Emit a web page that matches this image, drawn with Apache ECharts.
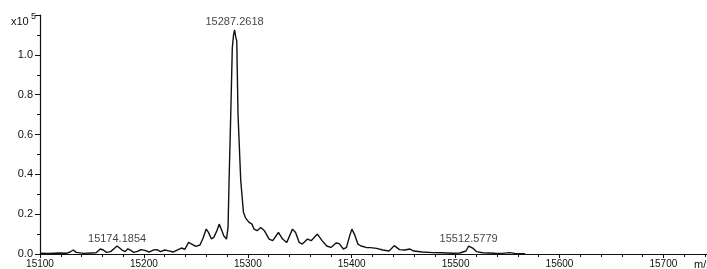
<!DOCTYPE html>
<html>
<head>
<meta charset="utf-8">
<script src="https://cdn.jsdelivr.net/npm/echarts@6/dist/echarts.min.js"></script>
<style>
  html, body { margin: 0; padding: 0; background: #fff; }
  #chart { width: 707px; height: 269px; }
</style>
</head>
<body>
<div id="chart"></div>
<script>
// m/z values
var mz = [15100, 15108, 15118, 15126, 15129, 15132, 15135, 15142, 15149, 15154,
  15158, 15161, 15164, 15168, 15172, 15174.2, 15176, 15179, 15182, 15184.5,
  15187, 15190, 15194, 15197, 15201, 15205, 15209, 15212.5, 15216, 15220,
  15224, 15228, 15232, 15236, 15239.5, 15243, 15246, 15250, 15254, 15257,
  15260, 15262, 15265, 15267.5, 15270.5, 15272.5, 15274, 15277, 15279.5, 15281,
  15282, 15283.6, 15285.1, 15286.3, 15287.3, 15288.4, 15289.4, 15290.6, 15293.2, 15295.8,
  15298, 15301, 15304, 15306, 15309, 15312.5, 15316, 15320.5, 15324, 15329.5,
  15333.5, 15337.5, 15343, 15346, 15349.5, 15352.5, 15357.5, 15361, 15367, 15371.5,
  15376, 15380, 15385, 15388, 15392, 15395, 15398, 15400.2, 15402.6, 15406,
  15409, 15414, 15418, 15424, 15430, 15436, 15441, 15446, 15451, 15456,
  15460, 15468, 15478, 15487, 15497, 15504, 15510, 15512.6, 15517, 15520,
  15526, 15538, 15545, 15552, 15557, 15567];

// intensity in units of 10^5
var intensity = [0.004, 0.003, 0.005, 0.004, 0.010, 0.020, 0.008, 0.003, 0.005, 0.006,
  0.025, 0.020, 0.008, 0.012, 0.030, 0.040, 0.030, 0.020, 0.012, 0.026,
  0.020, 0.008, 0.013, 0.022, 0.018, 0.010, 0.020, 0.022, 0.012, 0.020,
  0.016, 0.010, 0.020, 0.030, 0.024, 0.058, 0.050, 0.038, 0.045, 0.080,
  0.125, 0.110, 0.075, 0.085, 0.120, 0.150, 0.130, 0.090, 0.075, 0.135,
  0.370, 0.700, 1.035, 1.100, 1.125, 1.090, 1.070, 0.700, 0.370, 0.210,
  0.180, 0.160, 0.150, 0.125, 0.117, 0.133, 0.117, 0.075, 0.067, 0.108,
  0.075, 0.058, 0.125, 0.108, 0.058, 0.050, 0.075, 0.067, 0.100, 0.067,
  0.040, 0.033, 0.055, 0.052, 0.025, 0.033, 0.090, 0.125, 0.100, 0.050,
  0.040, 0.033, 0.032, 0.028, 0.020, 0.015, 0.042, 0.022, 0.020, 0.025,
  0.015, 0.010, 0.007, 0.006, 0.004, 0.005, 0.015, 0.040, 0.028, 0.012,
  0.006, 0.004, 0.003, 0.007, 0.003, 0.002];

// labelled peaks
var peakMz = [15174.1854, 15287.2618, 15512.5779];

var font = 'Liberation Sans, Arial, sans-serif';
var ink = '#111';

var trace = mz.map(function (m, i) { return [m, intensity[i]]; });

// put each peak label on the nearest point of the trace
var peakPts = peakMz.map(function (p) {
  var best = 0;
  for (var i = 1; i < mz.length; i++) {
    if (Math.abs(mz[i] - p) < Math.abs(mz[best] - p)) best = i;
  }
  return [p, intensity[best]];
});

var chart = echarts.init(document.getElementById('chart'));

var option = {
  animation: false,
  backgroundColor: '#fff',
  grid: { left: 40, right: 0, top: 15, bottom: 14 },
  xAxis: {
    type: 'value',
    min: 15100,
    max: 15742,
    interval: 100,
    axisLine: { lineStyle: { color: ink, width: 1.2 } },
    axisTick: { length: 4, lineStyle: { color: ink } },
    minorTick: { show: true, splitNumber: 5, length: 3, lineStyle: { color: ink } },
    axisLabel: {
      color: ink, fontSize: 10, fontFamily: font, margin: 5, showMaxLabel: false,
      formatter: function (v) { return String(v); }
    },
    splitLine: { show: false }
  },
  yAxis: {
    type: 'value',
    min: 0,
    max: 1.2,
    interval: 0.2,
    axisLine: { show: true, lineStyle: { color: ink, width: 1.2 } },
    axisTick: { show: true, length: 5, lineStyle: { color: ink } },
    minorTick: { show: true, splitNumber: 2, length: 3, lineStyle: { color: ink } },
    axisLabel: {
      color: ink, fontSize: 11, fontFamily: font, margin: 7, showMaxLabel: false,
      formatter: function (v) { return v.toFixed(1); }
    },
    splitLine: { show: false }
  },
  graphic: [
    { type: 'text', left: 11, top: 16, style: { text: 'x10', fontSize: 11, fontFamily: font, fill: ink } },
    { type: 'text', left: 31, top: 12, style: { text: '5', fontSize: 9, fontFamily: font, fill: ink } },
    { type: 'text', left: 694, top: 259, style: { text: 'm/z', fontSize: 11, fontFamily: font, fill: ink } }
  ],
  series: [
    {
      type: 'line',
      data: trace,
      showSymbol: false,
      lineStyle: { color: ink, width: 1.4 },
      silent: true
    },
    {
      type: 'scatter',
      data: peakPts,
      symbolSize: 0,
      silent: true,
      label: {
        show: true,
        position: 'top',
        distance: 2,
        color: ink,
        fontSize: 11,
        fontFamily: font,
        formatter: function (p) { return p.value[0].toFixed(4); }
      }
    }
  ]
};

chart.setOption(option);
</script>
</body>
</html>
